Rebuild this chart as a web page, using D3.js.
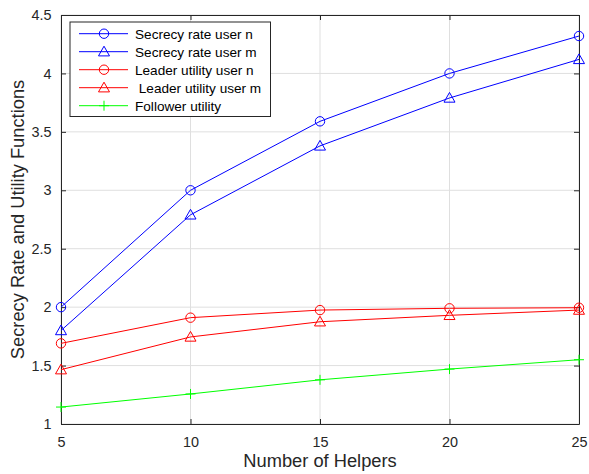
<!DOCTYPE html>
<html>
<head>
<meta charset="utf-8">
<script src="https://cdn.jsdelivr.net/npm/d3@7"></script>
<style>
  body { margin: 0; background: #fff; }
  svg { font-family: "Liberation Sans", Arial, sans-serif; }
</style>
</head>
<body>
<svg id="chart" width="589" height="474"></svg>
<script>
const helpers = [5, 10, 15, 20, 25];
const secrecyN = [2.0, 3.0, 3.59, 4.0, 4.32];
const secrecyM = [1.8, 2.79, 3.38, 3.79, 4.12];
const leaderN = [1.69, 1.91, 1.975, 1.99, 1.995];
const leaderM = [1.465, 1.745, 1.875, 1.93, 1.975];
const follower = [1.145, 1.257, 1.378, 1.47, 1.55];
const xTicks = [5, 10, 15, 20, 25];
const yTicks = [1, 1.5, 2, 2.5, 3, 3.5, 4, 4.5];

const series = [
  { name: "Secrecy rate user n", values: secrecyN, color: "#0000ff", marker: "circle" },
  { name: "Secrecy rate user m", values: secrecyM, color: "#0000ff", marker: "triangle" },
  { name: "Leader utility user n", values: leaderN, color: "#ff0000", marker: "circle" },
  { name: " Leader utility user m", values: leaderM, color: "#ff0000", marker: "triangle" },
  { name: "Follower utility", values: follower, color: "#00ff00", marker: "plus" }
];

const margin = { left: 61, right: 10, top: 15, bottom: 50 };
const width = 589 - margin.left - margin.right;
const height = 474 - margin.top - margin.bottom;

const svg = d3.select("#chart");
const g = svg.append("g").attr("transform", "translate(" + margin.left + "," + margin.top + ")");

const x = d3.scaleLinear().domain([5, 25]).range([0, width]);
const y = d3.scaleLinear().domain([1, 4.5]).range([height, 0]);

// grid
g.append("g").selectAll("line").data(xTicks).enter().append("line")
  .attr("x1", d => x(d)).attr("x2", d => x(d)).attr("y1", 0).attr("y2", height)
  .attr("stroke", "#dfdfdf").attr("stroke-width", 1);
g.append("g").selectAll("line").data(yTicks).enter().append("line")
  .attr("y1", d => y(d)).attr("y2", d => y(d)).attr("x1", 0).attr("x2", width)
  .attr("stroke", "#dfdfdf").attr("stroke-width", 1);

// axes (ticks inward, box on)
const axisColor = "#262626";
function styleAxis(sel) {
  sel.attr("font-size", null).attr("font-family", null);
  sel.selectAll("path").attr("stroke", axisColor);
  sel.selectAll("line").attr("stroke", axisColor);
  sel.selectAll("text").attr("fill", axisColor).style("font-size", "14.4px");
}
const fmt = d => String(d);
const xb = g.append("g").attr("transform", "translate(0," + height + ")")
  .call(d3.axisBottom(x).tickValues(xTicks).tickSize(-5).tickSizeOuter(0).tickPadding(12.5).tickFormat(fmt));
styleAxis(xb);
const xt = g.append("g")
  .call(d3.axisTop(x).tickValues(xTicks).tickSize(-5).tickSizeOuter(0).tickFormat(""));
styleAxis(xt);
const yl = g.append("g")
  .call(d3.axisLeft(y).tickValues(yTicks).tickSize(-5).tickSizeOuter(0).tickPadding(9.5).tickFormat(fmt));
styleAxis(yl);
const yr = g.append("g").attr("transform", "translate(" + width + ",0)")
  .call(d3.axisRight(y).tickValues(yTicks).tickSize(-5).tickSizeOuter(0).tickFormat(""));
styleAxis(yr);

// axis titles
svg.append("text")
  .attr("x", margin.left + width / 2).attr("y", 467)
  .attr("text-anchor", "middle").style("font-size", "18.3px").attr("fill", axisColor)
  .text("Number of Helpers");
svg.append("text")
  .attr("transform", "translate(24," + (margin.top + height / 2) + ") rotate(-90)")
  .attr("text-anchor", "middle").style("font-size", "18.3px").attr("fill", axisColor)
  .text("Secrecy Rate and Utility Functions");

function drawMarker(sel, type, color) {
  if (type === "circle") {
    sel.append("circle").attr("r", 4.7).attr("fill", "none").attr("stroke", color).attr("stroke-width", 1);
  } else if (type === "triangle") {
    sel.append("path").attr("d", "M0,-5.5L5.5,4.2L-5.5,4.2Z").attr("fill", "none").attr("stroke", color).attr("stroke-width", 1);
  } else {
    sel.append("path").attr("d", "M-5,0H5M0,-5V5").attr("fill", "none").attr("stroke", color).attr("stroke-width", 1);
  }
}

const line = d3.line().x((d, i) => x(helpers[i])).y(d => y(d));

series.forEach(s => {
  g.append("path").datum(s.values)
    .attr("d", line).attr("fill", "none").attr("stroke", s.color).attr("stroke-width", 1);
  g.append("g").selectAll("g").data(s.values).enter().append("g")
    .attr("transform", (d, i) => "translate(" + x(helpers[i]) + "," + y(d) + ")")
    .each(function () { drawMarker(d3.select(this), s.marker, s.color); });
});

// legend
const legend = svg.append("g").attr("transform", "translate(70,22)");
legend.append("rect").attr("x", 0).attr("y", 0).attr("width", 200.5).attr("height", 94.5)
  .attr("fill", "#fff").attr("stroke", axisColor).attr("stroke-width", 1);
series.forEach((s, i) => {
  const row = legend.append("g").attr("transform", "translate(0," + (11.7 + i * 18) + ")");
  row.append("line").attr("x1", 9).attr("x2", 58).attr("y1", 0).attr("y2", 0)
    .attr("stroke", s.color).attr("stroke-width", 1);
  drawMarker(row.append("g").attr("transform", "translate(34,0)"), s.marker, s.color);
  row.append("text").attr("x", 65).attr("y", 5).style("font-size", "13.6px")
    .style("white-space", "pre").attr("fill", "#000").text(s.name);
});
</script>
</body>
</html>
